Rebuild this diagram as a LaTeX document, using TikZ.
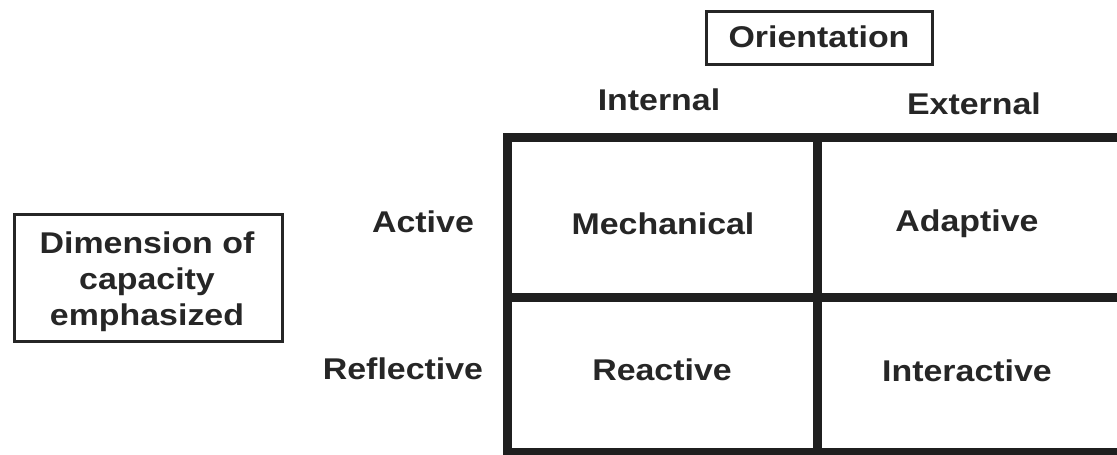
\documentclass[tikz,border=0pt]{standalone}
\usepackage{fontspec}
\setmainfont[FakeStretch=1.13]{Liberation Sans}
\begin{document}
\begin{tikzpicture}[x=1pt,y=-1pt,
  lbl/.style={font=\fontsize{30}{35}\selectfont\bfseries, text=black!85, inner sep=0pt, anchor=center},
  frame/.style={draw=black!85, line width=3pt},
  grid/.style={draw=black!88, line width=9pt}]
\useasboundingbox (0,0) rectangle (1117,455);
% boxes
\draw[frame] (706,11) rectangle (932,64);
\node[lbl] (orient) at (819,37) {Orientation};
\draw[frame] (14,214) rectangle (282,341);
\node[lbl, align=center, font=\fontsize{30}{36}\selectfont\bfseries] (dim) at (147,282) {Dimension of\\capacity\\emphasized};
% column / row labels
\node[lbl] (internal) at (659,100) {Internal};
\node[lbl] (external) at (974,104) {External};
\node[lbl] (active) at (423,222) {Active};
\node[lbl] (reflective) at (403,369) {Reflective};
% grid
\coordinate (tl) at (507,137);
\coordinate (tr) at (1125,137);
\coordinate (ml) at (507,297);
\coordinate (mr) at (1125,297);
\coordinate (bl) at (507,452);
\coordinate (br) at (1125,452);
\coordinate (vt) at (817,137);
\coordinate (vb) at (817,452);
\draw[grid] (tr) -- (tl) -- (bl) -- (br);
\draw[grid] (ml) -- (mr);
\draw[grid] (vt) -- (vb);
% cells
\node[lbl] (mech) at (663,224) {Mechanical};
\node[lbl] (adapt) at (967,224) {Adaptive};
\node[lbl] (react) at (662,370) {Reactive};
\node[lbl] (inter) at (967,371) {Interactive};
\end{tikzpicture}
\end{document}
